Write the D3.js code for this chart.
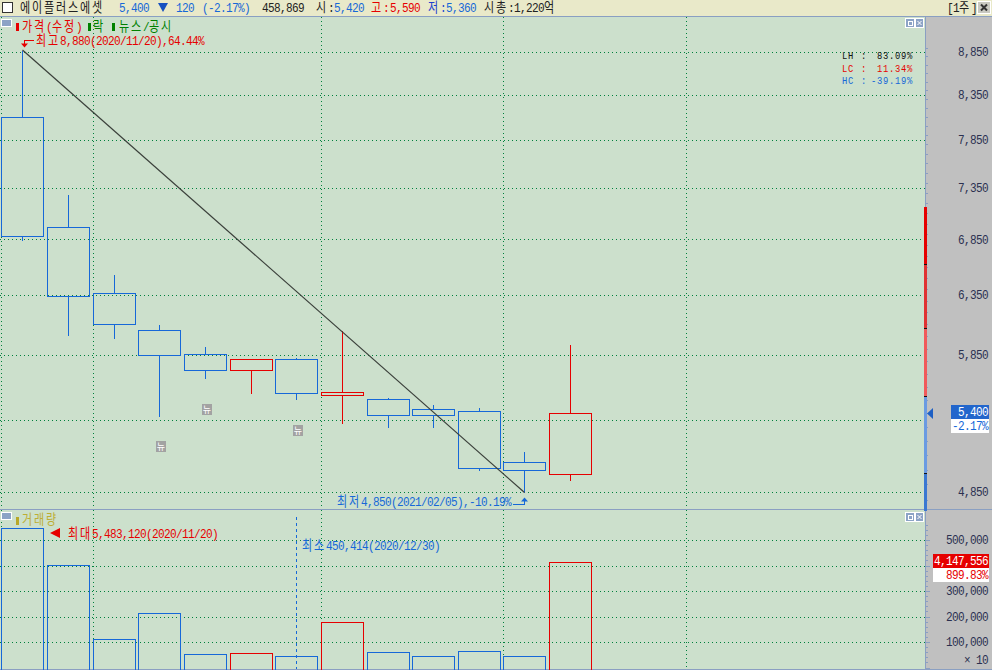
<!DOCTYPE html>
<html lang="ko"><head><meta charset="utf-8">
<script src="https://cdn.jsdelivr.net/npm/d3@7/dist/d3.min.js"></script>
<style>
html,body{margin:0;padding:0;background:#c0c0c0;overflow:hidden}
svg{display:block}
text{font-family:"Liberation Mono","Noto Sans CJK KR",monospace;font-size:13.5px}
.c{shape-rendering:crispEdges}
</style></head><body><svg id="chart" width="992" height="670"></svg>
<script>
// ---- data ----
const dates   = ["2020/11/20","2020/11/27","2020/12/04","2020/12/11","2020/12/18","2020/12/24","2020/12/30","2021/01/08","2021/01/15","2021/01/22","2021/01/29","2021/02/05","2021/02/10"];
const opens   = [8100,6970,6370,6050,5860,5730,5820,5540,5510,5430,5420,5050,4970];
const highs   = [8880,7290,6530,6100,5920,5820,5830,6050,5520,5470,5450,5130,5940];
const lows    = [6840,6010,5990,5380,5670,5550,5510,5330,5300,5300,5000,4850,4930];
const closes  = [6880,6340,6100,5850,5730,5820,5550,5560,5390,5390,5010,5000,5400];
const volumes = [5483120,4030000,1125000,2145000,537000,576000,450414,1790000,616000,470000,655000,470000,4147556];
const priceTicks  = [8850,8350,7850,7350,6850,6350,5850,5350,4850];
const priceLabels = [8850,8350,7850,7350,6850,6350,5850,4850];
const volumeTicks = [5000000,4000000,3000000,2000000,1000000];
const volumeLabels= [5000000,3000000,2000000,1000000];
const monthStarts = [0,2,7,11,15];
const newsIndex   = [4,6,3];
const newsPrice   = [5439,5286,5165];
const gaugeStops  = [7170,6623,6068,5523,4971,4732];
const gaugeColors = ["#e60000","#e03232","#f05a5a","#6a9be2","#3a78d2"];
const lineFrom = 0, lineTo = 11;

const RED="#e60000", BLUE="#1668d8", GREEN="#00803c", AXIS="#8a9fc2", DARK="#2b3050";
const svg=d3.select("#chart");
const W=925, TOP=17, SPLIT=509, BOT=669;

const x=d3.scaleLinear().domain([0,12]).range([22.77,570.63]);
const y=d3.scaleLog().domain([8850,4850]).range([52.5,492.5]);
const v=d3.scaleLinear().domain([0,5000000]).range([668,540.5]);
const px=a=>Math.round(a-.5)+.5;
const cx=i=>Math.floor(x(i))+.5;

function rect(g,a,b,w,h,f,s){return g.append("rect").attr("class","c").attr("x",a).attr("y",b).attr("width",w).attr("height",h).attr("fill",f).attr("stroke",s||"none");}
function line(g,a,b,c,d,s,dash,sw){return g.append("line").attr("class","c").attr("x1",a).attr("y1",b).attr("x2",c).attr("y2",d).attr("stroke",s).attr("stroke-dasharray",dash||null).attr("stroke-width",sw||1);}
const isWide=ch=>ch.charCodeAt(0)>0x2E80;
const SX=.82;
function put(g,str,a,cy,color,end){
  const chars=Array.from(str); let w=0; const xs=chars.map(ch=>{const p=w; w+=isWide(ch)?12:6; return p;});
  const o=end?a-w:a;
  return g.append("text").attr("transform",`scale(${SX},1)`).attr("x",xs.map(p=>(p+o)/SX).join(" ")).attr("y",cy+4.5).attr("fill",color).text(str);
}

// backgrounds
rect(svg,0,0,992,670,"#c0c0c0");
rect(svg,0,0,992,16,"#e9e9c9");
rect(svg,0,TOP,W,BOT-TOP,"#cce0cc");
line(svg,0,16.5,992,16.5,AXIS);
line(svg,0,SPLIT+.5,992,SPLIT+.5,AXIS);
line(svg,0,BOT+.5,992,BOT+.5,AXIS);
line(svg,925.5,17,925.5,670,AXIS);

// grid
const grid=svg.append("g");
priceTicks.forEach(t=>line(grid,0,px(y(t)),W,px(y(t)),GREEN,"1 3"));
volumeTicks.forEach(t=>line(grid,0,px(v(t)),W,px(v(t)),GREEN,"1 3"));
monthStarts.forEach(i=>{const a=cx(i)-21;
  line(grid,a,TOP,a,SPLIT,GREEN,"1 3");
  line(grid,a,SPLIT+1,a,BOT,GREEN,"1 3");});

// axes
const axp=svg.append("g");
d3.range(4800,8901,100).forEach(t=>{const Y=px(y(t)); if(Y<SPLIT) line(axp,926,Y,priceTicks.includes(t)?930:928,Y,AXIS);});
d3.range(0,5600001,200000).forEach(t=>{const Y=px(v(t)); line(axp,926,Y,t%1000000===0?930:928,Y,AXIS);});
priceLabels.forEach(t=>put(axp,d3.format(",")(t),988,y(t)-.5,DARK,true));
volumeLabels.forEach(t=>put(axp,d3.format(",")(t/10),988,v(t)-.5,DARK,true));
put(axp,"× 10",988,660,DARK,true);

// candles
const cg=svg.append("g");
dates.forEach((d,i)=>{
  const col=closes[i]>=opens[i]?RED:BLUE, c=cx(i);
  const t=px(y(Math.max(opens[i],closes[i]))), b=px(y(Math.min(opens[i],closes[i])));
  line(cg,c,px(y(highs[i])),c,t,col);
  line(cg,c,b,c,px(y(lows[i])),col);
  rect(cg,c-21,t,42,b-t,"none",col);
  const V=px(v(volumes[i]));
  rect(cg,c-21,V,42,BOT+3-V,"none",col);
});

// trend line between the highest and lowest marks
svg.append("line").attr("x1",cx(lineFrom)).attr("y1",y(highs[lineFrom])).attr("x2",cx(lineTo)).attr("y2",y(lows[lineTo]))
  .attr("stroke","#3a3f3a").attr("stroke-width",1.2);

// news flags
newsIndex.forEach((i,k)=>{
  const a=Math.floor(x(i))-3, Y=Math.round(y(newsPrice[k]))-5;
  rect(svg,a,Y,10,11,"#a2a2a2");
  svg.append("text").attr("x",a+5).attr("y",Y+9).attr("text-anchor","middle").attr("fill","#fff").style("font-size","9px").text("뉴");
});

// gauge on the price axis
gaugeColors.forEach((col,i)=>{
  const a=Math.round(y(gaugeStops[i])), b=Math.round(y(gaugeStops[i+1]));
  rect(svg,924,a,3,b-a,col);
  if(i<4) rect(svg,924,b-1,3,1,"#111");
});

// header
const h=svg.append("g");
rect(h,2.5,2.5,10,10,"#fff","#333");
put(h,"에이플러스에셋",20,7.5,"#222");
put(h,"5,400",119,7.5,BLUE);
h.append("path").attr("d","M158 3H168L163 12Z").attr("fill","#1650c0");
put(h,"120",176,7.5,BLUE);
put(h,"(-2.17%)",202,7.5,BLUE);
put(h,"458,869",262,7.5,"#222");
put(h,"시:",316,7.5,"#222");
put(h,"5,420",334,7.5,BLUE);
put(h,"고:",371,7.5,RED);
put(h,"5,590",390,7.5,RED);
put(h,"저:",428,7.5,"#2040d0");
put(h,"5,360",446,7.5,BLUE);
put(h,"시총:1,220억",484,7.5,"#222");
put(h,"[1주]",947,7.5,"#222");
rect(h,977.5,1.5,13,12,"#c8c8c0","#fff");
h.append("path").attr("d","M981 4.5L987 10.5M987 4.5L981 10.5").attr("stroke","#333").attr("stroke-width",2).attr("fill","none");

// panel buttons
function panelBtns(Y){
  rect(svg,905.5,Y+.5,9,9,"#8ca3c6","#fff");
  rect(svg,908,Y+3,4,4,"#8ca3c6","#fff");
  rect(svg,915.5,Y+.5,8,9,"#8ca3c6","#fff");
  svg.append("path").attr("d",`M917.5 ${Y+3}L921.5 ${Y+7}M921.5 ${Y+3}L917.5 ${Y+7}`).attr("stroke","#fff").attr("fill","none");
}
panelBtns(18); panelBtns(512);
rect(svg,1.5,19.5,10,7,"#8ca3c6","#fff");
rect(svg,1.5,512.5,10,7,"#8ca3c6","#fff");

// legend, price panel
rect(svg,16,23,3,8,RED);
put(svg,"가격(수정)",22,27,RED);
rect(svg,88,23,3,8,"#008000");
put(svg,"락",93,27,"#008000");
rect(svg,112,23,3,8,"#008000");
put(svg,"뉴스/공시",119,27,"#008000");

svg.append("path").attr("d","M34 40.5H24.5V46").attr("stroke",RED).attr("fill","none").attr("class","c");
svg.append("path").attr("d","M21 43.5H28L24.5 47.5Z").attr("fill",RED);
put(svg,"최고8,880(2020/11/20),64.44%",36,40.5,RED);

put(svg,"최저4,850(2021/02/05),-10.19%",337,501.5,BLUE);
svg.append("path").attr("d","M513 504.5H524.5V499").attr("stroke",BLUE).attr("fill","none").attr("class","c");
svg.append("path").attr("d","M521 501.5H528L524.5 497.5Z").attr("fill",BLUE);

// LH / LC / HC table (smaller type so the tight rows stay apart)
[["LH","83.09%","#111"],["LC","11.34%",RED],["HC","-39.19%",BLUE]].forEach((r,i)=>{
  const cy=55+i*12.5;
  put(svg,r[0],842,cy,r[2]).style("font-size","10.8px");
  put(svg,":",861,cy,r[2]).style("font-size","10.8px");
  put(svg,r[1],913,cy,r[2],true).style("font-size","10.8px");
});

// volume panel labels
rect(svg,16,517,3,8,"#b8a828");
put(svg,"거래량",22,520,"#bdae34");
svg.append("path").attr("d","M50 533L60 528V538Z").attr("fill",RED);
put(svg,"최대5,483,120(2020/11/20)",68,533.5,RED);
line(svg,cx(6),517,cx(6),BOT,BLUE,"3 3");
put(svg,"최소450,414(2020/12/30)",302,545.5,BLUE);

// current price tags
svg.append("path").attr("d","M927 413.5L933 408V419Z").attr("fill","#1d5fc4");
rect(svg,951,405,38,14,"#2266cc");
put(svg,"5,400",988,411.5,"#fff",true);
rect(svg,951,419,38,14,"#fff");
put(svg,"-2.17%",988,425.5,BLUE,true);
rect(svg,933,554,56,14,RED);
put(svg,"4,147,556",988,560.5,"#fff",true);
rect(svg,933,568,56,14,"#fff");
put(svg,"899.83%",988,574.5,RED,true);
</script></body></html>
